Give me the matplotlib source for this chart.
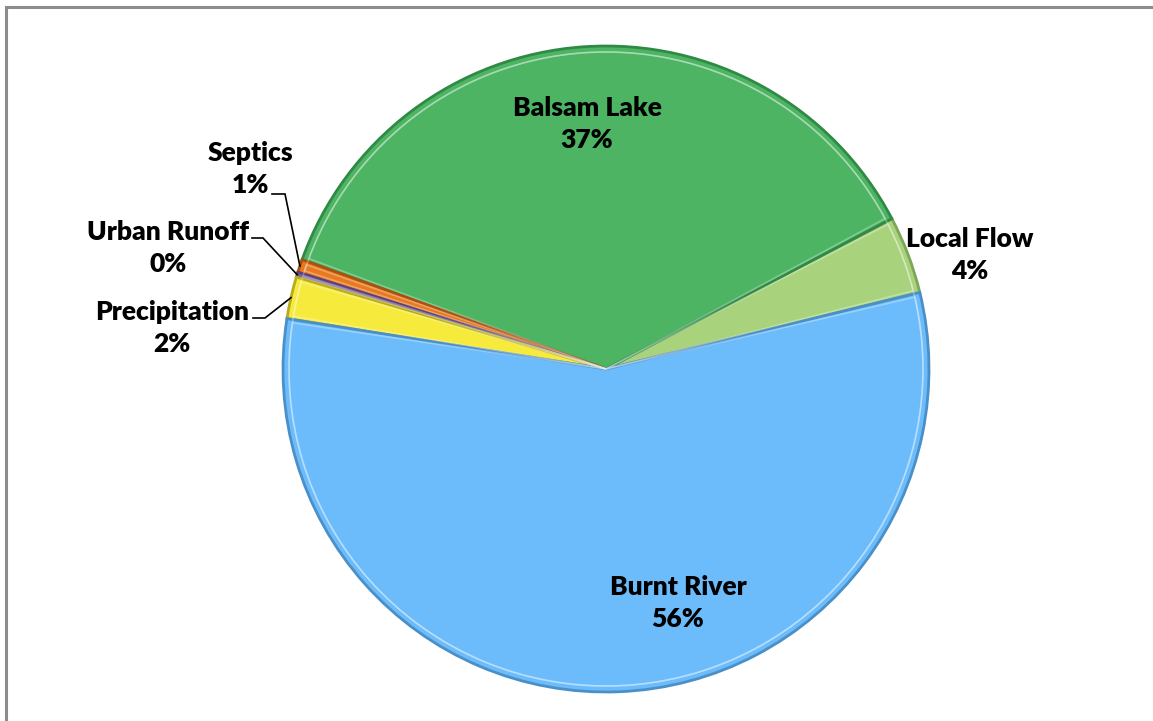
import numpy as np
import matplotlib.pyplot as plt
from matplotlib.patches import Rectangle, Wedge

# slices in counter-clockwise order starting at the Local Flow / Burnt River edge
etiquetas = ['Local Flow', 'Balsam Lake', 'Septics', 'Urban Runoff', 'Precipitation', 'Burnt River']
valores = [3.9, 36.8, 0.65, 0.25, 2.1, 56.3]
porcentajes = ['4%', '37%', '1%', '0%', '2%', '56%']
colores = ['#A8D27C', '#4CB462', '#E8791F', '#7E62A6', '#F6EA3C', '#6CBCFC']
bordes = ['#7FA55A', '#2F8A45', '#A9520E', '#5A4180', '#B8AC1C', '#4A90C8']

W, H = 1153, 721
cx, cy, r = 606, H - 369, 323

fig = plt.figure(figsize=(W / 100, H / 100), dpi=100)
ax = fig.add_axes([0, 0, 1, 1])

wedges, _ = ax.pie(valores, colors=colores, startangle=13.7, counterclock=True,
                   center=(cx, cy), radius=r, frame=True,
                   wedgeprops=dict(linewidth=2.0))
for w, b in zip(wedges, bordes):
    w.set_edgecolor(b)

# lighter inner ring to mimic the bevel
for w in wedges:
    ax.add_patch(Wedge((cx, cy), r - 6, w.theta1 + 0.6, w.theta2 - 0.6,
                       facecolor='none', edgecolor='white', linewidth=1.2, alpha=0.3))

ax.set_xlim(0, W)
ax.set_ylim(0, H)
ax.set_aspect('equal')
ax.axis('off')

fuente = dict(family=['Lato', 'DejaVu Sans'], fontsize=19, fontweight='heavy', color='black',
              ha='center', va='center', linespacing=1.4)

# label positions (figure pixels, measured from the top)
pos_texto = {
    'Local Flow': (970, 255),
    'Balsam Lake': (587, 124),
    'Burnt River': (678, 603),
    'Septics': (250, 169),
    'Urban Runoff': (168, 248),
    'Precipitation': (172, 328),
}
for lab, pct in zip(etiquetas, porcentajes):
    x, y = pos_texto[lab]
    ax.text(x, H - y, f'{lab}\n{pct}', **fuente)

# leader lines for the thin slices
lineas = {
    'Septics': ((272, 194), (285, 194)),
    'Urban Runoff': ((252, 238), (263, 238)),
    'Precipitation': ((253, 318), (265, 318)),
}
for w, lab in zip(wedges, etiquetas):
    if lab not in lineas:
        continue
    ang = np.deg2rad((w.theta1 + w.theta2) / 2)
    ex, ey = cx + r * np.cos(ang), cy + r * np.sin(ang)
    (x0, y0), (x1, y1) = lineas[lab]
    ax.plot([x0, x1, ex], [H - y0, H - y1, ey], color='black', lw=1.2,
            solid_joinstyle='miter')

# chart frame (right and bottom edges fall outside the picture)
fig.patches.append(Rectangle((5.5 / W, -0.1), 1.2, (H - 6.5) / H + 0.1,
                             transform=fig.transFigure, fill=False,
                             edgecolor='#8C8C8C', linewidth=2.2))

fig.savefig('out.png', dpi=100)
